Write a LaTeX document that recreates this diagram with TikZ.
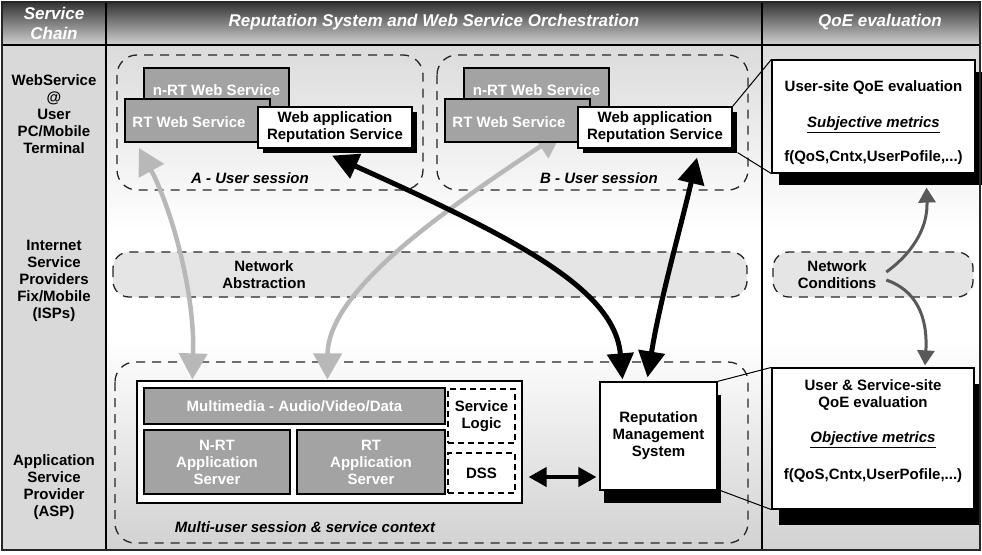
\documentclass[tikz,border=0pt]{standalone}
\usepackage{fontspec}
\setmainfont{Liberation Sans}
\usetikzlibrary{arrows.meta,calc,shadows}

\begin{document}
\begin{tikzpicture}[x=1pt, y=-1pt,
  every node/.style={font=\fontsize{15}{17}\selectfont\bfseries, align=center, inner sep=0pt},
  hdr/.style={font=\fontsize{17}{20}\selectfont\bfseries\itshape, text=white},
  gbox/.style={draw=black, line width=1.2pt, fill=black!36, text=white},
  wbox/.style={draw=black, line width=1.2pt, fill=white},
  shbox/.style 2 args={wbox, drop shadow={shadow xshift=#1, shadow yshift=-#2, opacity=1, fill=black}},
  dbox/.style={draw=black, line width=1.2pt, fill=white, dash pattern=on 6pt off 4pt},
  session/.style={draw=black!85, line width=1.3pt, dash pattern=on 9pt off 7pt, rounded corners=20pt},
  band/.style={session, fill=black!10, rounded corners=16pt},
  garrow/.style={draw=black!28, line width=4.5pt, {Triangle[length=26pt,width=28pt]}-{Triangle[length=26pt,width=28pt]}},
  barrow/.style={draw=black, line width=5pt, {Triangle[length=26pt,width=26pt]}-{Triangle[length=26pt,width=26pt]}},
  darrow/.style={draw=black, line width=4pt, {Triangle[length=18pt,width=19pt]}-{Triangle[length=18pt,width=19pt]}},
  narrow/.style={draw=black!65, line width=3pt, -{Triangle[length=15pt,width=17pt]}}]

\useasboundingbox (0,0) rectangle (982,554);
\fill[white] (0,0) rectangle (982,554);

% columns and header
\shade[top color=black!80, bottom color=black!18] (2,2) rectangle (980,45);
\fill[black!15] (2,45) rectangle (106,550);
\shade[top color=black!14, bottom color=white] (106,45) rectangle (980,230);
\shade[top color=white, bottom color=black!18] (106,340) rectangle (980,550);
\draw[line width=1.6pt] (2,45) -- (980,45);
\draw[line width=1.6pt] (106,2) -- (106,550);
\draw[line width=1.6pt] (762,2) -- (762,550);

\node[hdr] (hdrchain) at (54,23) {Service\\Chain};
\node[hdr] (hdrrep) at (434,22) {Reputation System and Web Service Orchestration};
\node[hdr] (hdrqoe) at (880,22) {QoE evaluation};

\node (lblweb) at (54,114) {WebService\\@\\User\\PC/Mobile\\Terminal};
\node (lblisp) at (54,281) {Internet\\Service\\Providers\\Fix/Mobile\\(ISPs)};
\node (lblasp) at (54,487) {Application\\Service\\Provider\\(ASP)};

% network bands
\draw[band] (113,252) rectangle (747,297);
\node (natext) at (264,275) {Network\\Abstraction};
\draw[band] (773,252) rectangle (973,297);
\node (nctext) at (837,275) {Network\\Conditions};

% user sessions
\draw[session] (117,55) rectangle (423,190);
\node[font=\fontsize{15}{17}\selectfont\bfseries\itshape] (lblsessA) at (250,178) {A - User session};
\draw[session] (437,55) rectangle (748,190);
\node[font=\fontsize{15}{17}\selectfont\bfseries\itshape] (lblsessB) at (599,178) {B - User session};
\draw[session] (115,362) rectangle (748,543);
\node[font=\fontsize{15}{17}\selectfont\bfseries\itshape] (lblmulti) at (305,527) {Multi-user session \& service context};

% boxes of the application provider
\node[wbox, minimum width=385pt, minimum height=122pt] (appbox) at (329.5,442) {};

\draw[garrow] (139,148) .. controls (170,205) and (195,290) .. ($(appbox.north west)+(56,-1)$);
\draw[garrow] (562,132) .. controls (445,210) and (328,290) .. ($(appbox.north west)+(191,-1)$);

\node[gbox, minimum width=145pt, minimum height=44pt] (nrtA) at (216.5,90) {n-RT Web Service};
\node[gbox, minimum width=145pt, minimum height=43pt, label={[text=white, xshift=-8.5pt, yshift=-2pt]center:RT Web Service}] (rtA) at (197.5,120.5) {};
\node[shbox={5pt}{5pt}, minimum width=154pt, minimum height=41pt] (webA) at (335,127.5) {Web application\\Reputation Service};

\node[gbox, minimum width=145pt, minimum height=44pt] (nrtB) at (536.5,90) {n-RT Web Service};
\node[gbox, minimum width=145pt, minimum height=43pt, label={[text=white, xshift=-8.5pt, yshift=-2pt]center:RT Web Service}] (rtB) at (517.5,120.5) {};
\node[shbox={5pt}{5pt}, minimum width=154pt, minimum height=41pt] (webB) at (655,127.5) {Web application\\Reputation Service};

\node[gbox, minimum width=301pt, minimum height=36pt] (mmbox) at (294.5,406) {Multimedia - Audio/Video/Data};
\node[gbox, minimum width=146pt, minimum height=64pt] (nrtapp) at (217,462) {N-RT\\Application\\Server};
\node[gbox, minimum width=148pt, minimum height=64pt] (rtapp) at (371,462) {RT\\Application\\Server};
\node[dbox, minimum width=67pt, minimum height=54pt] (svclogic) at (481.5,416) {Service\\Logic};
\node[dbox, minimum width=67pt, minimum height=40pt] (dss) at (481.5,473) {DSS};

\node[shbox={4pt}{13pt}, minimum width=117pt, minimum height=108pt] (rms) at (658.5,436) {Reputation\\Management\\System};

% QoE evaluation
\node[shbox={7pt}{12pt}, minimum width=203pt, minimum height=113pt,
  label={[yshift=-6.5pt]center:{User-site QoE evaluation\\[19pt]\underline{\itshape Subjective metrics}\\[17pt]f(QoS,Cntx,UserPofile,...)}}] (qoe1) at (873.5,116.5) {};
\node[shbox={7pt}{16pt}, minimum width=202pt, minimum height=141pt,
  label={[yshift=7.5pt]center:{User \& Service-site\\QoE evaluation\\[18pt]\underline{\itshape Objective metrics}\\[20pt]f(QoS,Cntx,UserPofile,...)}}] (qoe2) at (873,438.5) {};

\draw[line width=1pt] (webB.north east) -- (qoe1.north west);
\draw[line width=1pt] ($(webB.south east)+(5,4)$) -- (qoe1.south west);
\draw[line width=1pt] (rms.north east) -- (qoe2.north west);
\draw[line width=1pt] ($(rms.south east)+(3,0)$) -- (qoe2.south west);

% reputation arrows
\draw[barrow] ($(webA.south)+(-3,7)$) .. controls (520,240) and (615,290) .. ($(rms.north)+(-36,-2)$);
\draw[barrow] ($(webB.south)+(42,9)$) .. controls (680,230) and (660,300) .. ($(rms.north)+(-11,-4)$);
\draw[darrow] ($(appbox.east |- dss.east)+(6,4)$) -- ($(rms.west |- dss.east)+(-3,4)$);

\draw[narrow] ($(nctext.east)+(10,-3)$) .. controls (910,255) and (928,230) .. ($(qoe1.south)+(53,14)$);
\draw[narrow] ($(nctext.east)+(10,5)$) .. controls (915,290) and (928,315) .. ($(qoe2.north)+(52,-2)$);

\draw[line width=2.5pt, black!85] (2,2) rectangle (980,550);
\end{tikzpicture}
\end{document}
